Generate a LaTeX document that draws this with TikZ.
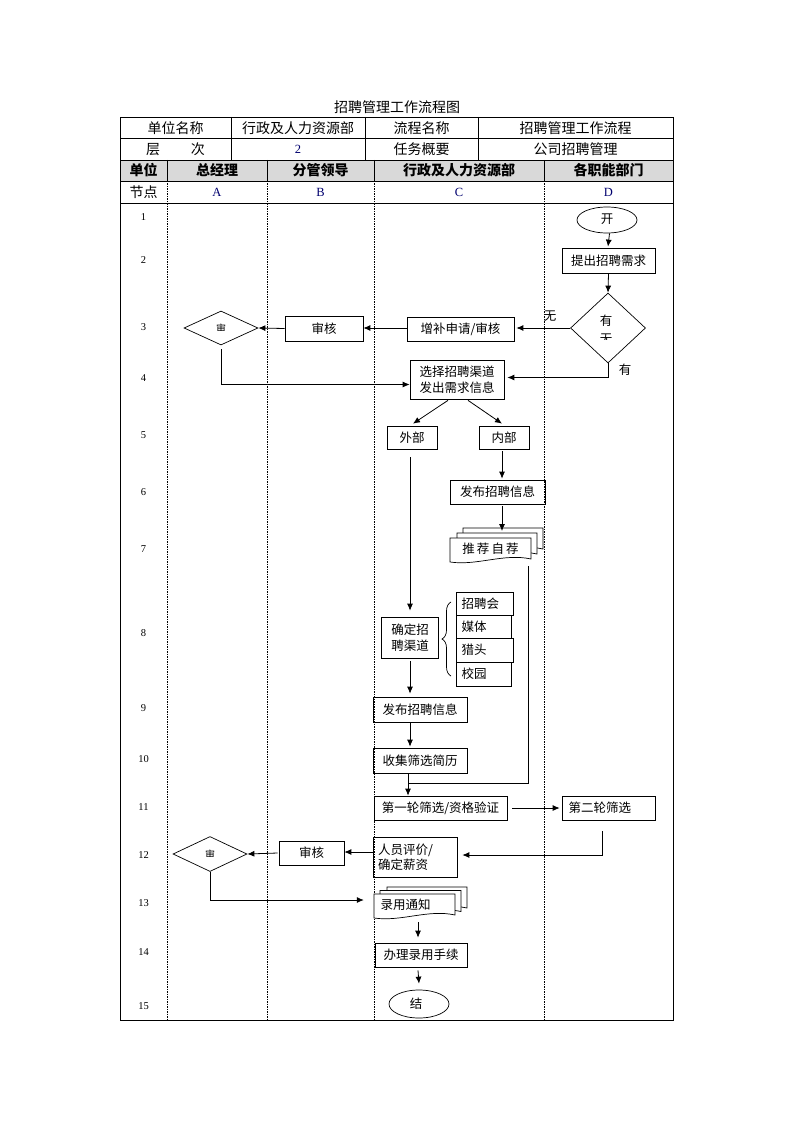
\documentclass[tikz,border=0pt]{standalone}
\usepackage{fontspec}
\setmainfont{Liberation Serif}
\newfontfamily\cjk{Noto Sans CJK SC}
\usetikzlibrary{shapes.geometric,arrows.meta,decorations.pathreplacing,calc}
\definecolor{hdrgray}{RGB}{217,217,217}
\definecolor{navy}{RGB}{0,0,110}
\newcommand\docshape[4]{%
  \draw[fill=white,line width=0.7pt] (#1,#2) -- (#3,#2) -- (#3,{#4-3}) .. controls ({#3-(#3-#1)/3},{#4-9}) and ({#1+(#3-#1)/3},{#4+4}) .. (#1,#4) -- cycle;}
\tikzset{
  frame/.style={line width=0.9pt},
  dotline/.style={line width=0.6pt,dash pattern=on 1.5pt off 1pt},
  box/.style={draw,line width=0.7pt,rectangle,inner sep=0pt,font=\cjk\fontsize{12.5}{15.5}\selectfont},
  plain/.style={inner sep=0pt,font=\cjk\fontsize{12.5}{15.5}\selectfont},
  hd/.style={inner sep=0pt,font=\cjk\fontsize{14}{16}\selectfont},
  hdb/.style={inner sep=0pt,font=\cjk\bfseries\fontsize{14}{16}\selectfont},
  num/.style={inner sep=0pt,font=\fontsize{10.5}{12}\selectfont},
  conn/.style={line width=0.8pt},
  arr/.style={line width=0.8pt,-{Latex[length=7pt,width=6pt]}},
  decide/.style={draw,line width=0.7pt,diamond,aspect=2,inner sep=0pt},
  term/.style={draw,line width=0.7pt,ellipse,inner sep=0pt},
}
\begin{document}
\begin{tikzpicture}[x=1pt,y=-1pt]
\useasboundingbox (0,0) rectangle (794,1123);
% title
\node[hd] (title) at (397,107) {招聘管理工作流程图};
% header grey row
\fill[hdrgray] (120,160) rectangle (673,181);
% outer frame
\draw[frame] (120,117) rectangle (673,1020);
\draw[frame] (120,138.5) -- (673,138.5);
\draw[frame] (120,160) -- (673,160);
\draw[frame] (120,181) -- (673,181);
\draw[frame] (120,203) -- (673,203);
\draw[frame] (231,117) -- (231,160);
\draw[frame] (365,117) -- (365,160);
\draw[frame] (478,117) -- (478,160);
\foreach \cx in {167,267,374,544} {
  \draw[frame] (\cx,160) -- (\cx,181);
  \draw[dotline] (\cx,181) -- (\cx,1020);
}
% header texts
\node[hd] (h11) at (175.5,128) {单位名称};
\node[hd] (h12) at (298,128) {行政及人力资源部};
\node[hd] (h13) at (421.5,128) {流程名称};
\node[hd] (h14) at (575.5,128) {招聘管理工作流程};
\node[hd] (h21) at (175.5,149.5) {层\hspace{2.2em}次};
\node[num,text=navy,font=\fontsize{12.5}{14}\selectfont] (h22) at (298,149.5) {2};
\node[hd] (h23) at (421.5,149.5) {任务概要};
\node[hd] (h24) at (575.5,149.5) {公司招聘管理};
\node[hdb] (h31) at (143.5,170.5) {单位};
\node[hdb] (h32) at (217,170.5) {总经理};
\node[hdb] (h33) at (320.5,170.5) {分管领导};
\node[hdb] (h34) at (459,170.5) {行政及人力资源部};
\node[hdb] (h35) at (608.5,170.5) {各职能部门};
\node[hd] (h41) at (143.5,192) {节点};
\node[num,text=navy,font=\fontsize{12.5}{14}\selectfont] (hA) at (217,192) {A};
\node[num,text=navy,font=\fontsize{12.5}{14}\selectfont] (hB) at (320.5,192) {B};
\node[num,text=navy,font=\fontsize{12.5}{14}\selectfont] (hC) at (459,192) {C};
\node[num,text=navy,font=\fontsize{12.5}{14}\selectfont] (hD) at (608.5,192) {D};
% row numbers
\foreach \n/\yy in {1/217,2/260,3/327,4/378,5/435,6/492,7/549,8/633,9/708,10/759,11/807,12/855,13/903,14/952,15/1006} {
  \node[num] (row\n) at (143.5,\yy) {\n};
}
% ---- shapes ----
\node[term,minimum width=60pt,minimum height=26pt] (start) at (607,220) {};
\begin{scope}
  \clip (595,210) rectangle (620,224);
  \node[plain] (starttxt) at (607,219.5) {开};
\end{scope}
\node[box,minimum width=93pt,minimum height=25pt] (req) at (608.5,260.5) {提出招聘需求};
\node[decide,minimum width=75pt,minimum height=70pt] (dD) at (608,328) {};
\node[plain] (dDt1) at (606,321) {有};
\begin{scope}
  \clip (595,330) rectangle (620,339);
  \node[plain] (dDt2) at (606,339) {无};
\end{scope}
\node[plain] (lblno) at (550,316) {无};
\node[plain] (lblyes) at (625,370) {有};
\node[box,minimum width=107pt,minimum height=24pt] (add) at (460.5,329.5) {增补申请/审核};
\node[box,minimum width=78pt,minimum height=25pt] (rev1) at (324,328.5) {审核};
\node[decide,minimum width=74pt,minimum height=34pt] (dA1) at (221,328) {};
\begin{scope}
  \clip (210,320) rectangle (232,330.5);
  \node[plain,font=\cjk\fontsize{10}{12}\selectfont] (dA1t) at (221,329) {审};
\end{scope}
\node[box,minimum width=94pt,minimum height=39pt,align=center] (sel) at (457,379.5) {选择招聘渠道\\发出需求信息};
\node[box,minimum width=50pt,minimum height=23pt] (ext) at (412,437.5) {外部};
\node[box,minimum width=50pt,minimum height=23pt] (int) at (504,437.5) {内部};
\node[box,minimum width=95pt,minimum height=24pt] (pub1) at (497.5,492) {发布招聘信息};
% stacked documents: recommend
\docshape{463}{528}{543}{552}
\docshape{457}{533}{537}{557}
\docshape{450}{538}{531}{562}
\coordinate (recb) at (502,528);
\node[plain,minimum width=81pt,minimum height=22pt] (rec) at (490.5,549) {推\,荐\,自\,荐};
\coordinate (recout) at (528,566);
% channel box and list
\node[box,minimum width=57pt,minimum height=41pt,align=center] (det) at (410,637.5) {确定招\\聘渠道};
\draw[line width=0.7pt,decorate,decoration={brace,amplitude=9pt}] (451,676) -- (451,602);
\coordinate (bracetip) at (441,639);
\node[box,minimum width=57pt,minimum height=23pt,text width=46pt,align=left] (l1) at (484.5,603.5) {招聘会};
\node[box,minimum width=55pt,minimum height=23pt,text width=44pt,align=left] (l2) at (483.5,626.5) {媒体};
\node[box,minimum width=57pt,minimum height=24pt,text width=46pt,align=left] (l3) at (484.5,650) {猎头};
\node[box,minimum width=55pt,minimum height=24pt,text width=44pt,align=left] (l4) at (483.5,674) {校园};
\node[box,minimum width=94pt,minimum height=25pt] (pub2) at (420,709.5) {发布招聘信息};
\node[box,minimum width=94pt,minimum height=25pt] (col) at (420,760.5) {收集筛选简历};
\coordinate (j1) at (408,783);
\node[box,minimum width=133pt,minimum height=24pt] (r1) at (440.5,808) {第一轮筛选/资格验证};
\node[box,minimum width=93pt,minimum height=24pt,text width=80pt,align=left] (r2) at (608.5,808) {第二轮筛选};
\coordinate (j2) at (602,831);
\node[box,minimum width=84pt,minimum height=40pt,text width=74pt,align=left] (eval) at (415,857) {人员评价/\\确定薪资};
\node[box,minimum width=65pt,minimum height=24pt] (rev2) at (311.5,853) {审核};
\node[decide,minimum width=74pt,minimum height=35pt] (dA2) at (210,854) {};
\begin{scope}
  \clip (199,846) rectangle (221,856.5);
  \node[plain,font=\cjk\fontsize{10}{12}\selectfont] (dA2t) at (210,855) {审};
\end{scope}
% stacked documents: notice
\docshape{387}{887}{467}{911}
\docshape{380}{890.5}{461}{914.5}
\docshape{374}{894}{455}{918}
\node[plain,minimum width=81pt,minimum height=22pt,text width=68pt,align=left] (notice) at (414.5,905) {录用通知};
\coordinate (noticeout) at (418,921);
\node[box,minimum width=92pt,minimum height=24pt] (proc) at (421,955) {办理录用手续};
\node[term,minimum width=60pt,minimum height=28pt] (end) at (419,1004) {};
\node[plain] (endtxt) at (416,1004) {结};
% ---- connectors ----
\draw[arr] (start.south -| req.north) ++(1,0) -- ($(req.north)+(-0.5,-1)$);
\draw[arr] (req.south) -- (dD.north);
\draw[arr] (dD.west) -- ($(add.east)+(2,-1.5)$);
\draw[arr] (add.west) ++(0,-1.5) -- ($(rev1.east)+(0,-0.5)$);
\draw[arr] (rev1.west) -- (dA1.east);
\draw[arr] (dA1.south) ++(0,4) |- ($(sel.west)+(0,5)$);
\draw[arr] (dD.south) |- ($(sel.east)+(3,-2)$);
\draw[arr] ($(sel.south)+(-9,1)$) -- ($(ext.north)+(1,-2)$);
\draw[arr] ($(sel.south)+(11,1)$) -- ($(int.north)+(-2,-2)$);
\draw[conn] (ext.south -| det.north) ++(0,8) -- ($(det.north)+(0,-12)$);
\draw[arr] ($(det.north)+(0,-13)$) -- ($(det.north)+(0,-6)$);
\draw[arr] ($(int.south)+(-2,2)$) -- ($(pub1.north -| int.south)+(-2,-1)$);
\draw[arr] ($(pub1.south -| int.south)+(-2,2)$) -- ($(recb)+(0,3)$);
\draw[arr] (det.south) ++(0,3) -- ($(pub2.north)+(-10,-3)$);
\draw[arr] ($(pub2.south)+(-10,1)$) -- ($(col.north)+(-10,-1)$);
\draw[conn] (recout) |- (j1);
\draw[arr] (col.south -| j1) -- (r1.north -| j1);
\draw[arr] ($(r1.east)+(5,0)$) -- ($(r2.west)+(-2,0)$);
\draw[arr] (j2) |- ($(eval.east)+(5,-2)$);
\draw[arr] ($(eval.west)+(0,-5)$) -- ($(rev2.east)+(0,-1)$);
\draw[arr] ($(rev2.west)+(-1,0)$) -- (dA2.east);
\draw[arr] (dA2.south) |- ($(notice.west)+(-10,-5)$);
\draw[arr] ($(noticeout)+(0,1)$) -- ($(proc.north)+(-3,-5)$);
\draw[arr] ($(proc.south)+(-3,3)$) -- ($(end.north)+(0,-6)$);
\end{tikzpicture}
\end{document}
